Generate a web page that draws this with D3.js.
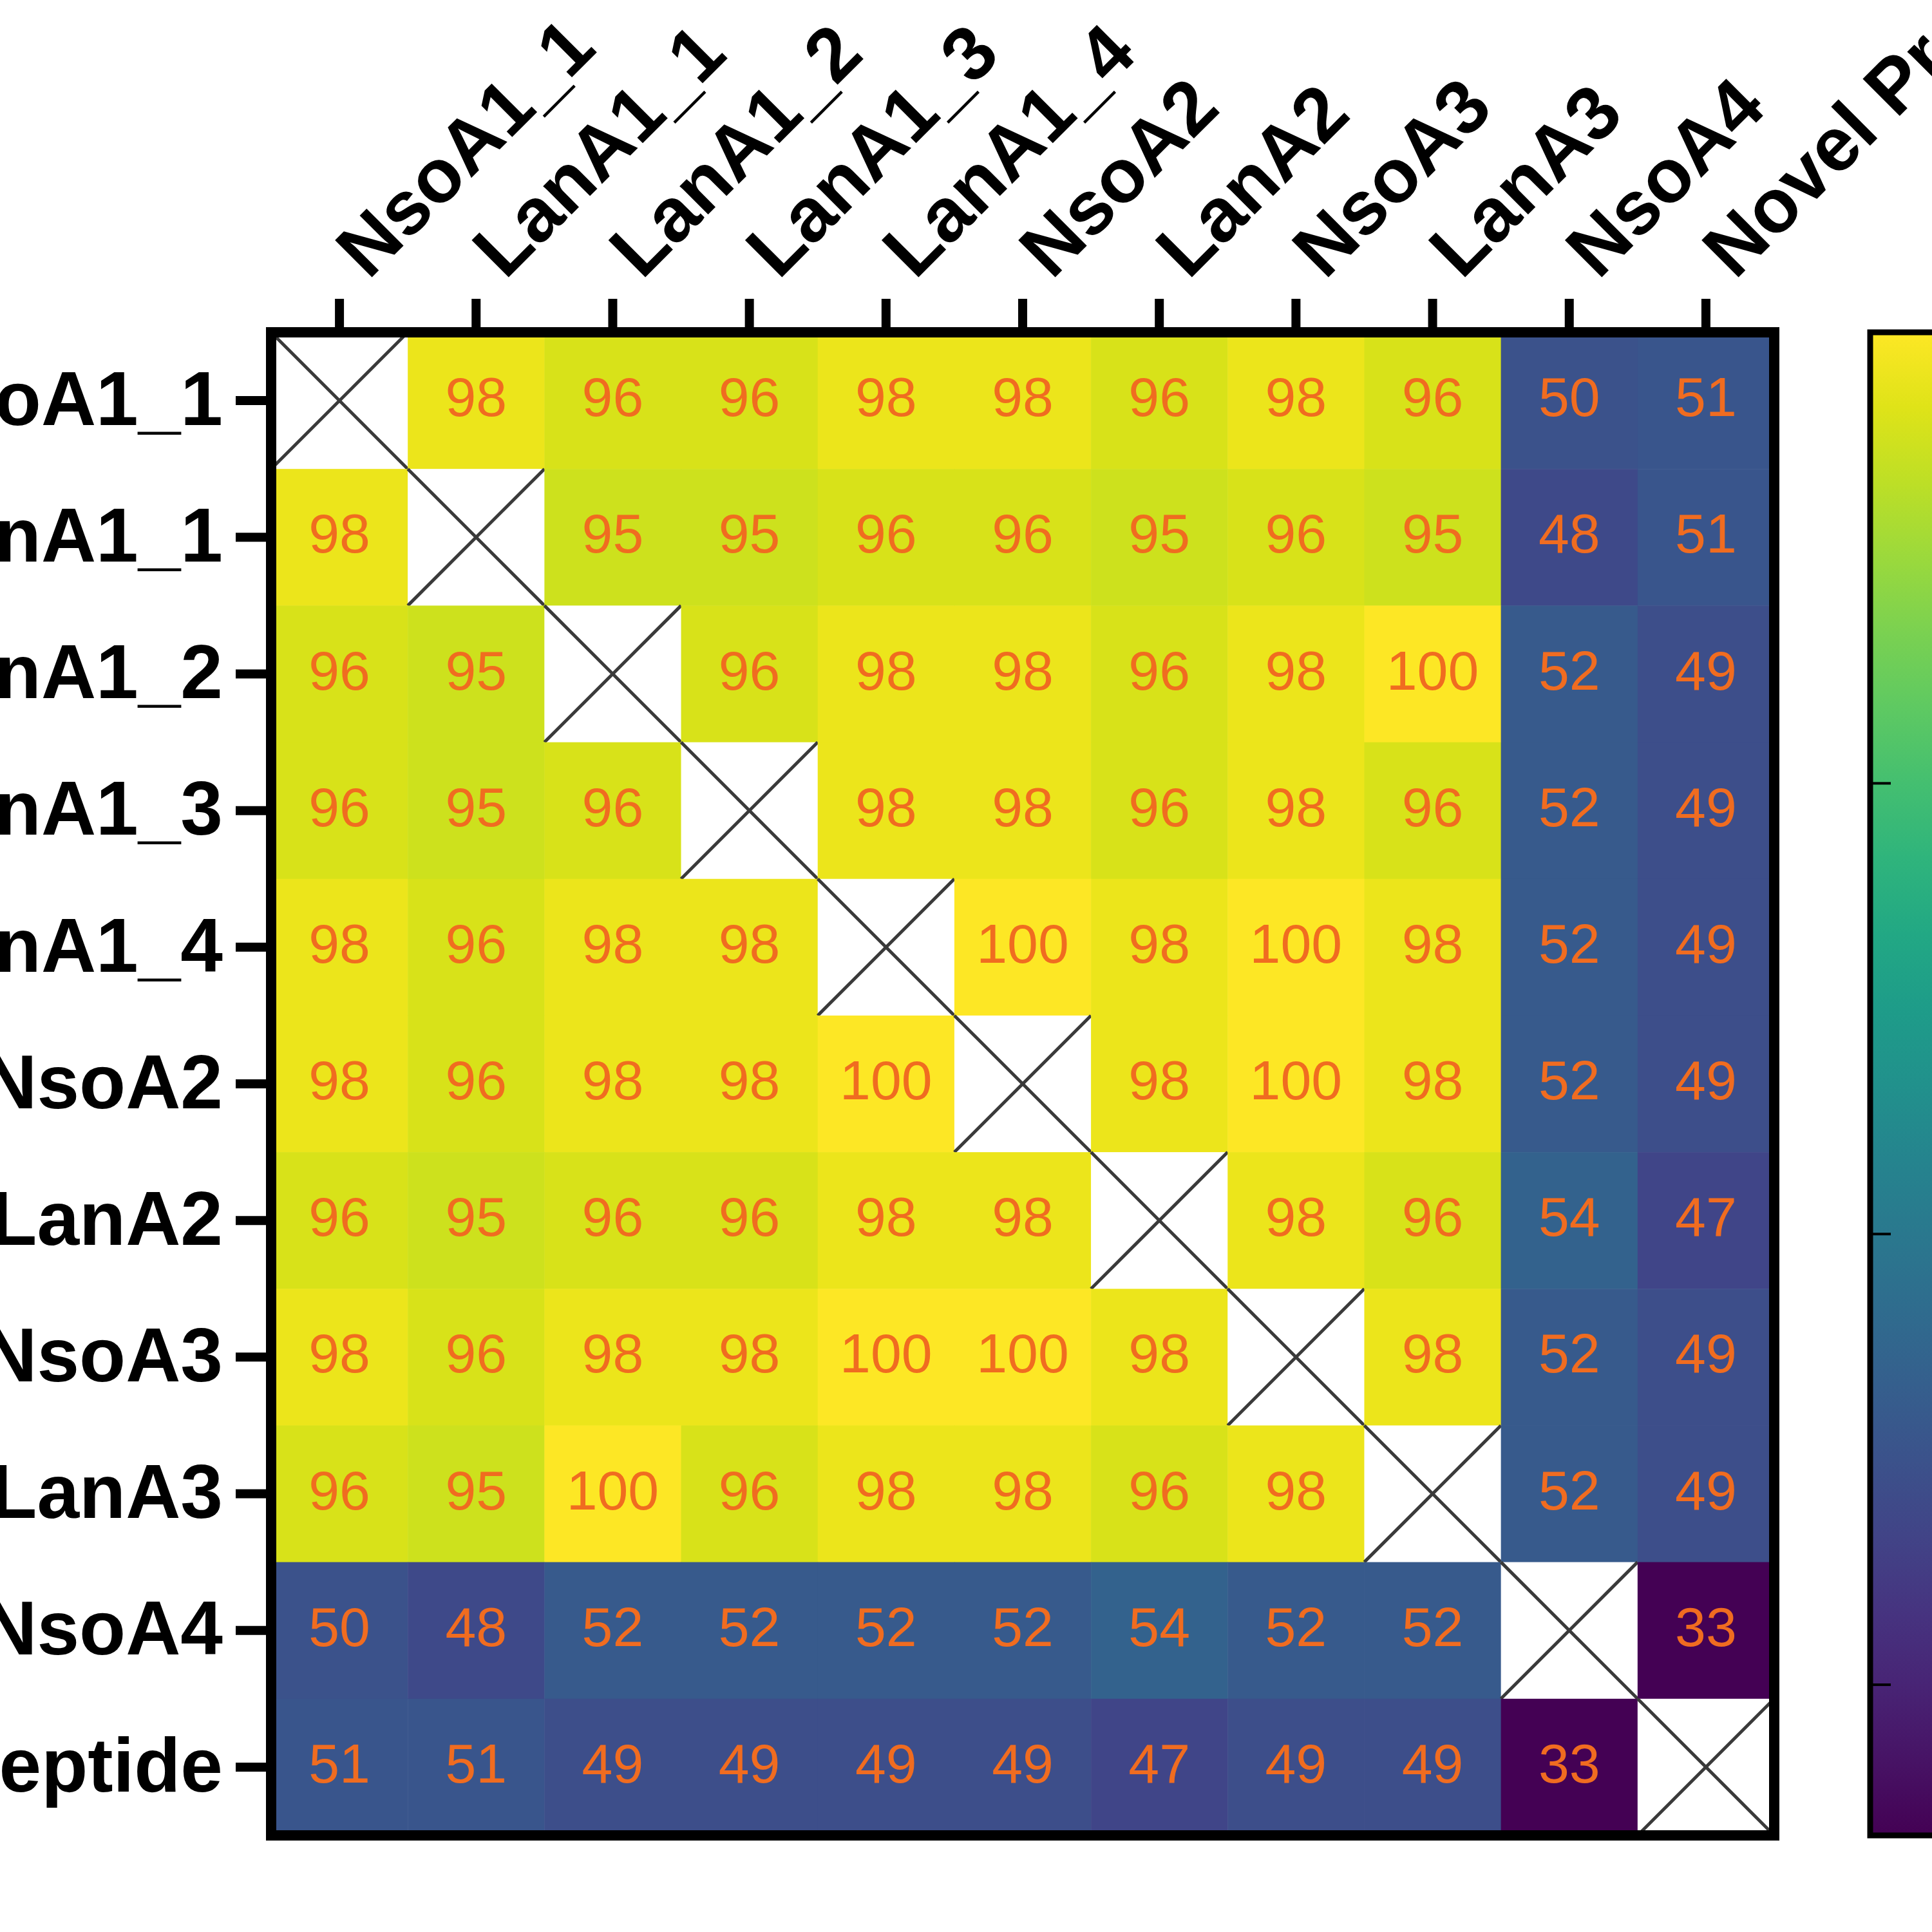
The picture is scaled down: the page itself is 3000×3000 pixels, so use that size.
<!DOCTYPE html>
<html>
<head>
<meta charset="utf-8">
<script src="https://cdn.jsdelivr.net/npm/d3@7"></script>
<style>
  body { margin: 0; background: #fff; }
  svg { display: block; }
</style>
</head>
<body>
<div id="canvas"></div>
<script>
// peptide names, same order on both axes
const peptides = [
  'NsoA1_1', 'LanA1_1', 'LanA1_2', 'LanA1_3', 'LanA1_4',
  'NsoA2', 'LanA2', 'NsoA3', 'LanA3', 'NsoA4', 'Novel Prepeptide'
];

// percent identity, one row per peptide (null = self comparison)
const rowNsoA1_1 = [null, 98, 96, 96, 98, 98, 96, 98, 96, 50, 51];
const rowLanA1_1 = [98, null, 95, 95, 96, 96, 95, 96, 95, 48, 51];
const rowLanA1_2 = [96, 95, null, 96, 98, 98, 96, 98, 100, 52, 49];
const rowLanA1_3 = [96, 95, 96, null, 98, 98, 96, 98, 96, 52, 49];
const rowLanA1_4 = [98, 96, 98, 98, null, 100, 98, 100, 98, 52, 49];
const rowNsoA2   = [98, 96, 98, 98, 100, null, 98, 100, 98, 52, 49];
const rowLanA2   = [96, 95, 96, 96, 98, 98, null, 98, 96, 54, 47];
const rowNsoA3   = [98, 96, 98, 98, 100, 100, 98, null, 98, 52, 49];
const rowLanA3   = [96, 95, 100, 96, 98, 98, 96, 98, null, 52, 49];
const rowNsoA4   = [50, 48, 52, 52, 52, 52, 54, 52, 52, null, 33];
const rowNovel   = [51, 51, 49, 49, 49, 49, 47, 49, 49, 33, null];

const rows = [rowNsoA1_1, rowLanA1_1, rowLanA1_2, rowLanA1_3, rowLanA1_4,
  rowNsoA2, rowLanA2, rowNsoA3, rowLanA3, rowNsoA4, rowNovel];

// colour bar range and ticks
const colorDomain = [33.3, 100];
const colorTicks = [40, 60, 80];

const W = 3000, H = 3000;
const x0 = 421, y0 = 516, size = 2334;

const cells = [];
rows.forEach((r, i) => r.forEach((v, j) => {
  cells.push({ row: peptides[i], col: peptides[j], value: v });
}));

const svg = d3.select('#canvas')
    .append('svg')
    .attr('width', W)
    .attr('height', H)
    .style('font-family', '"Liberation Sans", Arial, sans-serif');

svg.append('rect').attr('width', W).attr('height', H).attr('fill', '#fff');

const xScale = d3.scaleBand()
    .domain(peptides)
    .range([x0, x0 + size]);

const yScale = d3.scaleBand()
    .domain(peptides)
    .range([y0, y0 + size]);

const color = d3.scaleSequential(d3.interpolateViridis)
    .domain(colorDomain);

const bw = xScale.bandwidth(), bh = yScale.bandwidth();

// cells
const cell = svg.append('g').selectAll('g')
    .data(cells)
    .enter()
    .append('g')
    .attr('transform', d => `translate(${xScale(d.col)}, ${yScale(d.row)})`);

cell.append('rect')
    .attr('width', bw + 0.5)
    .attr('height', bh + 0.5)
    .attr('fill', d => d.value == null ? '#fff' : color(d.value));

// crossed out diagonal
const diag = cell.filter(d => d.value == null);
diag.append('line')
    .attr('x1', 0).attr('y1', 0).attr('x2', bw).attr('y2', bh)
    .attr('stroke', '#3a3a3a').attr('stroke-width', 5);
diag.append('line')
    .attr('x1', bw).attr('y1', 0).attr('x2', 0).attr('y2', bh)
    .attr('stroke', '#3a3a3a').attr('stroke-width', 5);

cell.filter(d => d.value != null)
  .append('text')
    .text(d => d.value)
    .attr('x', bw / 2)
    .attr('y', bh / 2 - 6)
    .attr('dy', '0.35em')
    .attr('text-anchor', 'middle')
    .attr('font-size', 86)
    .attr('fill', '#f06c20');

// axes
const xAxis = d3.axisTop(xScale).tickSize(52).tickPadding(20);
const yAxis = d3.axisLeft(yScale).tickSize(55).tickPadding(20);

const gx = svg.append('g')
    .attr('transform', `translate(0, ${y0})`)
    .call(xAxis);
gx.select('.domain').remove();
gx.selectAll('.tick line').attr('stroke', '#000').attr('stroke-width', 14);
gx.selectAll('.tick text')
    .attr('x', null)
    .attr('y', null)
    .attr('dy', null)
    .attr('text-anchor', 'start')
    .attr('transform', 'translate(45, -80) rotate(-45)')
    .attr('font-size', 118)
    .attr('font-weight', 'bold')
    .attr('fill', '#000');

const gy = svg.append('g')
    .attr('transform', `translate(${x0}, 0)`)
    .call(yAxis);
gy.select('.domain').remove();
gy.selectAll('.tick line').attr('stroke', '#000').attr('stroke-width', 14);
gy.selectAll('.tick text')
    .attr('font-size', 118)
    .attr('font-weight', 'bold')
    .attr('fill', '#000');

svg.selectAll('.tick text').attr('font-family', '"Liberation Sans", Arial, sans-serif');

// frame
svg.append('rect')
    .attr('x', x0)
    .attr('y', y0)
    .attr('width', size)
    .attr('height', size)
    .attr('fill', 'none')
    .attr('stroke', '#000')
    .attr('stroke-width', 16);

// colour bar
const barX = 2904;
const grad = svg.append('defs').append('linearGradient')
    .attr('id', 'viridis')
    .attr('x1', 0).attr('y1', 1).attr('x2', 0).attr('y2', 0);
grad.selectAll('stop')
    .data(d3.range(0, 1.0001, 0.05))
    .enter()
    .append('stop')
    .attr('offset', t => t)
    .attr('stop-color', t => d3.interpolateViridis(t));

svg.append('rect')
    .attr('x', barX)
    .attr('y', y0)
    .attr('width', 200)
    .attr('height', size)
    .attr('fill', 'url(#viridis)')
    .attr('stroke', '#000')
    .attr('stroke-width', 9);

const barScale = d3.scaleLinear()
    .domain(colorDomain)
    .range([y0 + size, y0]);

const gbar = svg.append('g')
    .attr('transform', `translate(${barX}, 0)`)
    .call(d3.axisRight(barScale).tickValues(colorTicks).tickSize(32).tickFormat(''));
gbar.select('.domain').remove();
gbar.selectAll('.tick line').attr('stroke', '#000').attr('stroke-width', 4);
</script>
</body>
</html>
